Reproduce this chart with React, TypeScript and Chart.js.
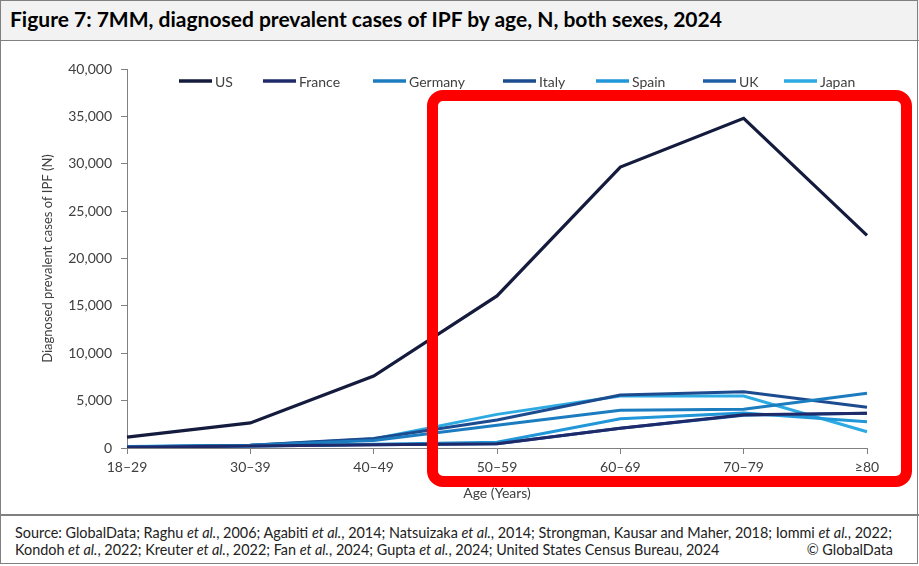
import React, { useEffect, useRef } from "react";
import { Chart, registerables } from "chart.js";

Chart.register(...registerables);

const ageGroups = ["18–29", "30–39", "40–49", "50–59", "60–69", "70–79", "≥80"];
const countries = ["US", "France", "Germany", "Italy", "Spain", "UK", "Japan"];
const usCases = [1150, 2650, 7600, 16050, 29650, 34800, 22450];
const franceCases = [70, 200, 350, 450, 2080, 3500, 3660];
const germanyCases = [120, 280, 800, 2400, 3980, 4100, 5770];
const italyCases = [100, 300, 1000, 2950, 5590, 5940, 4300];
const spainCases = [60, 200, 400, 600, 3080, 3700, 2780];
const ukCases = [80, 220, 350, 450, 2080, 3450, 3660];
const japanCases = [150, 300, 950, 3550, 5490, 5490, 1720];
const yTickValues = [0, 5000, 10000, 15000, 20000, 25000, 30000, 35000, 40000];

const seriesValues = [usCases, franceCases, germanyCases, italyCases, spainCases, ukCases, japanCases];
const seriesColors = ["#141b3d", "#1f2a6b", "#1c7cc0", "#1d4b8f", "#2196d8", "#1f5fa5", "#2eaae3"];

const FONT = "Lato, 'Open Sans', sans-serif";
const TEXT = "#404040";
const AXIS = "#808080";
const legendStarts = [179, 263, 373, 503, 596, 703, 784];

const legendPlugin = {
  id: "customLegend",
  afterDraw(chart: any) {
    const ctx = chart.ctx;
    ctx.save();
    const y = 40;
    chart.data.datasets.forEach((ds: any, i: number) => {
      const x = legendStarts[i];
      ctx.strokeStyle = ds.borderColor;
      ctx.lineWidth = 3.5;
      ctx.beginPath();
      ctx.moveTo(x, y);
      ctx.lineTo(x + 33, y);
      ctx.stroke();
      ctx.fillStyle = TEXT;
      ctx.font = `14px ${FONT}`;
      ctx.textBaseline = "middle";
      ctx.textAlign = "left";
      ctx.fillText(ds.label, x + 36, y + 1);
    });
    ctx.restore();
  },
};

function ChartCanvas() {
  const ref = useRef<HTMLCanvasElement | null>(null);
  useEffect(() => {
    if (!ref.current) return;
    const chart = new Chart(ref.current, {
      type: "line",
      data: {
        labels: ageGroups,
        datasets: countries.map((c, i) => ({
          label: c,
          data: seriesValues[i],
          borderColor: seriesColors[i],
          backgroundColor: seriesColors[i],
          borderWidth: i === 0 ? 3.2 : 3,
          pointRadius: 0,
          tension: 0,
          fill: false,
        })),
      },
      options: {
        animation: false,
        responsive: false,
        maintainAspectRatio: false,
        layout: { padding: { top: 28, right: 52, left: 0, bottom: 0 } },
        plugins: { legend: { display: false }, tooltip: { enabled: false } },
        scales: {
          x: {
            type: "category",
            offset: false,
            grid: { display: true, drawOnChartArea: false, drawTicks: true, tickLength: 6, color: AXIS },
            border: { display: true, color: AXIS, width: 1 },
            ticks: { color: TEXT, font: { family: FONT, size: 14 }, padding: 5, maxRotation: 0, autoSkip: false },
            title: {
              display: true,
              text: "Age (Years)",
              color: TEXT,
              font: { family: FONT, size: 14 },
              padding: { top: 0, bottom: 11 },
            },
            afterFit: (s: any) => {
              s.height = 65;
            },
          },
          y: {
            min: 0,
            max: 40000,
            afterBuildTicks: (s: any) => {
              s.ticks = yTickValues.map((v) => ({ value: v }));
            },
            grid: { display: true, drawOnChartArea: false, drawTicks: true, tickLength: 6, color: AXIS },
            border: { display: true, color: AXIS, width: 1 },
            ticks: {
              color: TEXT,
              font: { family: FONT, size: 14 },
              padding: 9,
              callback: (v: any) => Number(v).toLocaleString("en-US"),
            },
            title: {
              display: true,
              text: "Diagnosed prevalent cases of IPF (N)",
              color: TEXT,
              font: { family: FONT, size: 13 },
              padding: { top: 40, bottom: 0 },
            },
            afterFit: (s: any) => {
              s.width = 127;
            },
          },
        },
      },
      plugins: [legendPlugin],
    } as any);
    return () => chart.destroy();
  }, []);
  return <canvas ref={ref} width={919} height={472} style={{ position: "absolute", left: 0, top: 41, width: 919, height: 472 }} />;
}

export default function App() {
  const it = { fontStyle: "italic" as const };
  return (
    <div style={{ position: "absolute", left: 0, top: 0, width: 919, height: 566, background: "#fff", fontFamily: FONT, overflow: "hidden" }}>
      <div style={{ position: "absolute", left: 0, top: 0, width: 919, height: 41, background: "#f2f2f2", borderBottom: `1px solid ${AXIS}`, boxSizing: "border-box" }} />
      <div style={{ position: "absolute", left: 10, top: 6, fontSize: 21, fontWeight: 700, color: "#000", whiteSpace: "nowrap", lineHeight: "26px" }}>
        Figure 7: 7MM, diagnosed prevalent cases of IPF by age, N, both sexes, 2024
      </div>
      <ChartCanvas />
      <div style={{ position: "absolute", left: 0, top: 514, width: 919, height: 50, borderTop: `2px solid ${AXIS}`, boxSizing: "border-box" }} />
      <div style={{ position: "absolute", left: 15, top: 524, width: 880, fontSize: 14.4, lineHeight: "17px", color: "#222", whiteSpace: "nowrap" }}>
        <div>
          Source: GlobalData; Raghu <span style={it}>et al.</span>, 2006; Agabiti <span style={it}>et al.</span>, 2014; Natsuizaka <span style={it}>et al.</span>, 2014; Strongman, Kausar and Maher, 2018; Iommi <span style={it}>et al.</span>, 2022;
        </div>
        <div style={{ position: "relative" }}>
          Kondoh <span style={it}>et al.</span>, 2022; Kreuter <span style={it}>et al.</span>, 2022; Fan <span style={it}>et al.</span>, 2024; Gupta <span style={it}>et al.</span>, 2024; United States Census Bureau, 2024
          <span style={{ position: "absolute", right: 2, top: 0 }}>© GlobalData</span>
        </div>
      </div>
      <div style={{ position: "absolute", left: 0, top: 0, width: 918, height: 564, border: `1px solid ${AXIS}`, boxSizing: "border-box", pointerEvents: "none" }} />
      <div style={{ position: "absolute", left: 427, top: 90, width: 485, height: 397, border: "11px solid #ff0000", borderRadius: 16, boxSizing: "border-box" }} />
    </div>
  );
}
